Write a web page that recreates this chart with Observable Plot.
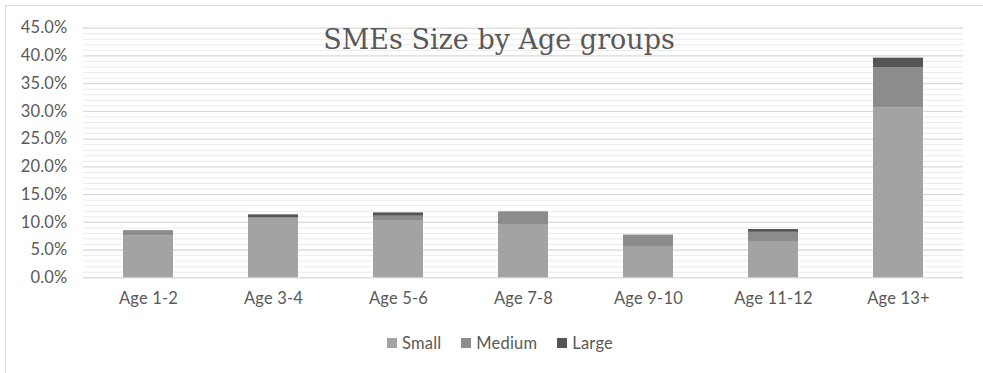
<!DOCTYPE html>
<html>
<head>
<meta charset="utf-8">
<script src="https://cdn.jsdelivr.net/npm/d3@7"></script>
<script src="https://cdn.jsdelivr.net/npm/@observablehq/plot@0.6"></script>
<style>
  html, body { margin: 0; padding: 0; background: #fff; }
  #wrap { position: relative; width: 983px; height: 373px; overflow: hidden; }
  #frame { position: absolute; left: 5px; top: 5px; right: -2px; bottom: -2px; border-left: 1px solid #d9d9d9; border-top: 1px solid #d9d9d9; }
  #chart { position: absolute; left: 0; top: 0; }
  #title { position: absolute; left: 0; width: 998px; top: 22px; text-align: center; font-family: "DejaVu Serif", serif; font-size: 27px; color: #595959; line-height: 36px; }
  #legend { position: absolute; left: 387px; top: 333px; display: flex; align-items: center; font-family: Lato, "Open Sans", sans-serif; font-size: 16.5px; color: #595959; letter-spacing: 0.2px; }
  .item { display: flex; align-items: center; margin-right: 20px; }
  .sw { width: 10px; height: 10px; margin-right: 5px; }
</style>
</head>
<body>
<div id="wrap">
  <div id="frame"></div>
  <div id="chart"></div>
  <div id="title">SMEs Size by Age groups</div>
  <div id="legend"></div>
</div>
<script>
const categories = ["Age 1-2", "Age 3-4", "Age 5-6", "Age 7-8", "Age 9-10", "Age 11-12", "Age 13+"];
const seriesNames = ["Small", "Medium", "Large"];
const small  = [7.6, 10.7, 10.2, 9.6, 5.5, 6.4, 30.6];
const medium = [0.9, 0.1, 0.9, 2.3, 2.2, 1.8, 7.3];
const large  = [0.0, 0.55, 0.6, 0.0, 0.0, 0.5, 1.7];
const colors = ["#a3a3a3", "#8c8c8c", "#555555"];
const yTicks = [0, 0.05, 0.10, 0.15, 0.20, 0.25, 0.30, 0.35, 0.40, 0.45];
const minorTicks = d3.range(0, 46).map(d => d / 100);

const seriesValues = [small, medium, large];
const data = [];
categories.forEach((c, i) => {
  seriesNames.forEach((s, j) => {
    data.push({ category: c, series: s, value: seriesValues[j][i] / 100 });
  });
});

const chart = Plot.plot({
  width: 983,
  height: 320,
  marginTop: 27.7,
  marginBottom: 42.7,
  marginLeft: 83,
  marginRight: 20,
  style: { fontFamily: "Lato, 'Open Sans', sans-serif", fontSize: "16.5px", color: "#595959", background: "transparent", letterSpacing: "0.2px" },
  x: { domain: categories, paddingInner: 0.6, paddingOuter: 0.3, label: null },
  y: { domain: [0, 0.45], label: null },
  color: { domain: seriesNames, range: colors },
  marks: [
    Plot.ruleY(minorTicks, { stroke: "#ebebeb", strokeWidth: 1 }),
    Plot.ruleY(yTicks, { stroke: "#d6d6d6", strokeWidth: 1 }),
    Plot.barY(data, { x: "category", y: "value", fill: "series" }),
    Plot.axisY(yTicks, { tickSize: 0, tickPadding: 16, tickFormat: d3.format(".1%"), fontSize: 16.5, label: null }),
    Plot.axisX({ tickSize: 0, tickPadding: 14, fontSize: 16.5, label: null })
  ]
});
document.getElementById("chart").appendChild(chart);

const legend = document.getElementById("legend");
seriesNames.forEach((s, j) => {
  const item = document.createElement("div");
  item.className = "item";
  const sw = document.createElement("div");
  sw.className = "sw";
  sw.style.background = colors[j];
  const label = document.createElement("span");
  label.textContent = s;
  item.appendChild(sw);
  item.appendChild(label);
  legend.appendChild(item);
});
</script>
</body>
</html>
